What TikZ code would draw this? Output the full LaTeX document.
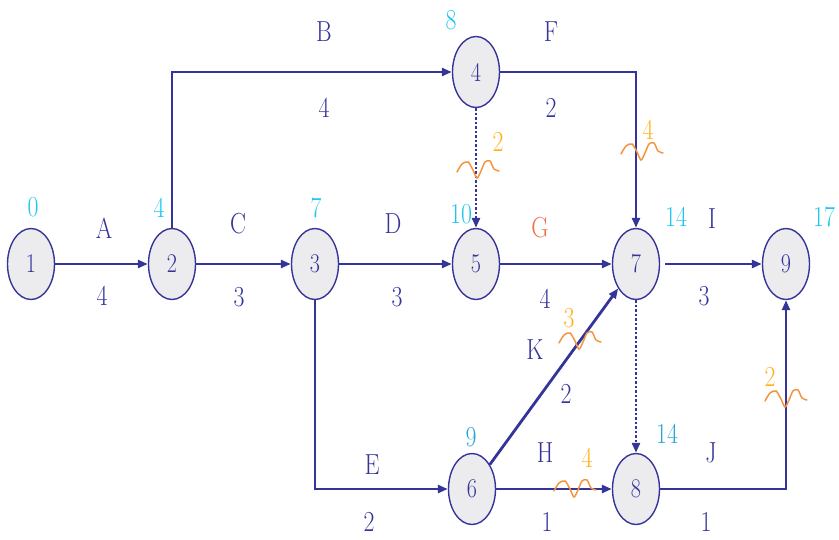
\documentclass[tikz,border=0pt]{standalone}
\usepackage{fontspec}
\setmainfont{Latin Modern Roman}[FakeStretch=0.82]
\usetikzlibrary{arrows.meta,shapes.geometric}
\definecolor{navy}{HTML}{34349A}
\definecolor{nodefill}{HTML}{ECECEE}
\definecolor{early}{HTML}{1CC6F0}
\definecolor{earlydk}{HTML}{2AA6D6}
\definecolor{slack}{HTML}{FFB21E}
\definecolor{wavec}{HTML}{F39540}
\definecolor{crit}{HTML}{F2714A}
\tikzset{
  ev/.style={ellipse,draw=navy,line width=1.4pt,fill=nodefill,minimum width=47pt,minimum height=71pt,inner sep=0pt,text=navy,font=\fontsize{27}{29}\selectfont},
  act/.style={draw=navy,line width=2.8pt,-{Triangle[length=10pt,width=8pt]}},
  dum/.style={draw=navy,line width=2.8pt,dash pattern=on 2.5pt off 2pt,-{Triangle[length=10pt,width=8pt]}},
  lab/.style={text=navy,font=\fontsize{29}{31}\selectfont,inner sep=0pt},
  et/.style={text=early,font=\fontsize{29}{31}\selectfont,inner sep=0pt},
  etd/.style={text=earlydk,font=\fontsize{29}{31}\selectfont,inner sep=0pt},
  fl/.style={text=slack,font=\fontsize{29}{31}\selectfont,inner sep=0pt},
  wiggle/.pic={\draw[wavec,line width=1.5pt,line cap=round] plot[smooth] coordinates{(-21,2) (-16,-6) (-10,-8) (-5,0) (-1,8) (3,1) (7,-8) (12,-9) (16,-1) (21,1)};}
}
\begin{document}
\begin{tikzpicture}[x=1pt,y=-1pt]
\useasboundingbox (0,0) rectangle (839,539);
% events
\node[ev] (n1) at (31,264) {1};
\node[ev] (n2) at (172,264) {2};
\node[ev] (n3) at (315,264) {3};
\node[ev] (n4) at (476,72) {4};
\node[ev] (n5) at (476,264) {5};
\node[ev] (n7) at (636,264) {7};
\node[ev] (n9) at (786,264) {9};
\node[ev] (n6) at (472,489) {6};
\node[ev] (n8) at (636,489) {8};
% activities
\draw[act] (n1) -- (n2);
\draw[act] (n2) -- (n3);
\draw[act] (n2.north) |- (n4.west);
\draw[act] (n3) -- (n5);
\draw[act] (n3.south) |- (n6.west);
\draw[act] (n4.east) -| (n7.north);
\draw[act] (n5) -- (n7);
\draw[act] (n6) -- (n7);
\draw[act] (n6) -- (n8);
\draw[act,shorten <=5pt] (n7.east) -- (n9.west);
\draw[act] (n8.east) -| (n9.south);
\draw[dum] (n4) -- (n5);
\draw[dum] (n7) -- (n8);
% activity names and durations
\node[lab] (la) at (104,228) {A};  \node[lab] (da) at (102,296) {4};
\node[lab] (lc) at (238,224) {C};  \node[lab] (dc) at (239,297) {3};
\node[lab] (lb) at (324,32) {B};   \node[lab] (db) at (324,108) {4};
\node[lab] (ld) at (393,224) {D};  \node[lab] (dd) at (397,297) {3};
\node[lab] (lf) at (551,32) {F};   \node[lab] (df) at (551,108) {2};
\node[lab,text=crit] (lg) at (540,228) {G}; \node[lab] (dg) at (545,299) {4};
\node[lab] (li) at (712,219) {I};  \node[lab] (di) at (704,296) {3};
\node[lab] (lk) at (535,350) {K};  \node[lab] (dk) at (566,394) {2};
\node[lab] (le) at (372,465) {E};  \node[lab] (de) at (369,522) {2};
\node[lab] (lh) at (545,453) {H};  \node[lab] (dh) at (547,522) {1};
\node[lab] (lj) at (711,453) {J};  \node[lab] (dj) at (706,522) {1};
% earliest times
\node[et] (t1) at (33,207) {0};
\node[et] (t2) at (159,208) {4};
\node[et] (t3) at (316,208) {7};
\node[et] (t4) at (451,20) {8};
\node[et] (t5) at (461,214) {10};
\node[et] (t7) at (676,217) {14};
\node[et] (t9) at (824,217) {17};
\node[etd] (t6) at (471,437) {9};
\node[etd] (t8) at (667,434) {14};
% free floats
\node[fl] (f45) at (498,142) {2};
\node[fl] (f47) at (648,130) {4};
\node[fl] (fk) at (569,318) {3};
\node[fl] (fh) at (587,458) {4};
\node[fl] (fj) at (770,377) {2};
\pic at (478,170) {wiggle};
\pic at (642,152) {wiggle};
\pic at (580,341) {wiggle};
\pic at (575,489) {wiggle};
\pic at (786,399) {wiggle};
\end{tikzpicture}
\end{document}
